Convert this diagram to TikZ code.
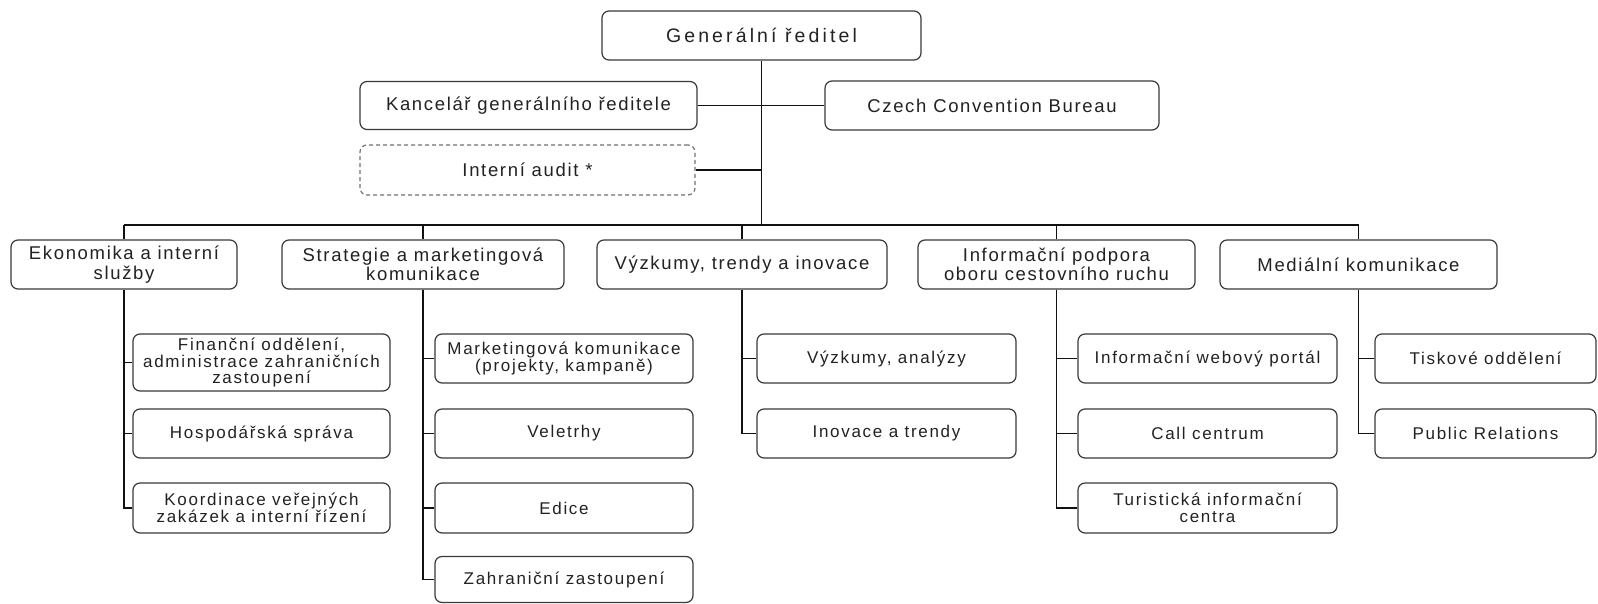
\documentclass[tikz,border=0pt]{standalone}
\usepackage{fontspec}
\setmainfont{Liberation Sans}
\newfontfamily\topfont{Liberation Sans}[LetterSpace=16]
\newfontfamily\midfont{Liberation Sans}[LetterSpace=9]
\newfontfamily\subfont{Liberation Sans}[LetterSpace=10]
\definecolor{boxc}{HTML}{3A3A3A}
\definecolor{txtc}{HTML}{222222}
\definecolor{linec}{HTML}{111111}
\begin{document}
\begin{tikzpicture}[x=1pt,y=-1pt,
  box/.style={draw=boxc, line width=1.2pt, rounded corners=7pt, fill=white,
    align=center, inner sep=0pt, text=txtc},
  topbox/.style={box, font={\topfont\fontsize{19.5}{21}\selectfont\lineskiplimit=-50pt}},
  midbox/.style={box, font={\midfont\fontsize{18.5}{19.3}\selectfont\lineskiplimit=-50pt}},
  subbox/.style={box, font={\subfont\fontsize{17}{16.7}\selectfont\lineskiplimit=-50pt}},
  auditbox/.style={midbox, draw=black!55, dashed, dash pattern=on 4pt off 3pt},
  conn/.style={draw=linec, line width=1.2pt}
]
\fill[white] (0,0) rectangle (1598,603);
\useasboundingbox (0,0) rectangle (1598,603);

% top level
\node[topbox, minimum width=319pt, minimum height=49pt] (G) at (761.5,35.5) {Generální ředitel};
\node[midbox, minimum width=337pt, minimum height=48pt] (K) at (528.5,105.5) {Kancelář generálního ředitele};
\node[midbox, minimum width=334pt, minimum height=49pt] (C) at (992,105.5) {Czech Convention Bureau};
\node[auditbox, minimum width=335pt, minimum height=50pt] (A) at (527.5,170) {Interní audit *};

% level 1
\node[midbox, minimum width=226pt, minimum height=49pt] (E) at (124,264.5) {Ekonomika a interní\\služby};
\node[midbox, minimum width=282pt, minimum height=49pt] (S) at (423,264.5) {Strategie a marketingová\\komunikace};
\node[midbox, minimum width=290pt, minimum height=49pt] (V) at (742,264.5) {Výzkumy, trendy a inovace};
\node[midbox, minimum width=277pt, minimum height=49pt] (I) at (1056.5,264.5) {Informační podpora\\oboru cestovního ruchu};
\node[midbox, minimum width=277pt, minimum height=49pt] (M) at (1358.5,264.5) {Mediální komunikace};

\coordinate (busL) at (124,225);
\coordinate (busR) at (1358.5,225);

% level 2
\node[subbox, minimum width=257pt, minimum height=57pt] (E1) at (261.5,362.5) {Finanční oddělení,\\administrace zahraničních\\zastoupení};
\node[subbox, minimum width=257pt, minimum height=49pt] (E2) at (261.5,433.5) {Hospodářská správa};
\node[subbox, minimum width=257pt, minimum height=50pt] (E3) at (261.5,508) {Koordinace veřejných\\zakázek a interní řízení};

\node[subbox, minimum width=258pt, minimum height=49pt] (S1) at (564,358.5) {Marketingová komunikace\\(projekty, kampaně)};
\node[subbox, minimum width=258pt, minimum height=49pt] (S2) at (564,433.5) {Veletrhy};
\node[subbox, minimum width=258pt, minimum height=50pt] (S3) at (564,508) {Edice};
\node[subbox, minimum width=258pt, minimum height=46pt] (S4) at (564,579.5) {Zahraniční zastoupení};

\node[subbox, minimum width=259pt, minimum height=49pt] (V1) at (886.5,358.5) {Výzkumy, analýzy};
\node[subbox, minimum width=259pt, minimum height=49pt] (V2) at (886.5,433.5) {Inovace a trendy};

\node[subbox, minimum width=259pt, minimum height=49pt] (I1) at (1207.5,358.5) {Informační webový portál};
\node[subbox, minimum width=259pt, minimum height=49pt] (I2) at (1207.5,433.5) {Call centrum};
\node[subbox, minimum width=259pt, minimum height=50pt] (I3) at (1207.5,508) {Turistická informační\\centra};

\node[subbox, minimum width=221pt, minimum height=49pt] (M1) at (1485.5,358.5) {Tiskové oddělení};
\node[subbox, minimum width=221pt, minimum height=49pt] (M2) at (1485.5,433.5) {Public Relations};

% connectors
\draw[conn] (G.south) -- (G.south |- busL);
\draw[conn] (K.east) -- (C.west);
\draw[conn] (A.east) -- (A.east -| G.south);
\draw[conn] (busL) -- (busR);
\foreach \n in {E,S,V,I,M} {
  \draw[conn] (\n.north |- busL) -- (\n.north);
}
\foreach \p/\c in {E/E1,E/E2,E/E3,S/S1,S/S2,S/S3,S/S4,V/V1,V/V2,I/I1,I/I2,I/I3,M/M1,M/M2} {
  \draw[conn] (\p.south) |- (\c.west);
}
\end{tikzpicture}
\end{document}
